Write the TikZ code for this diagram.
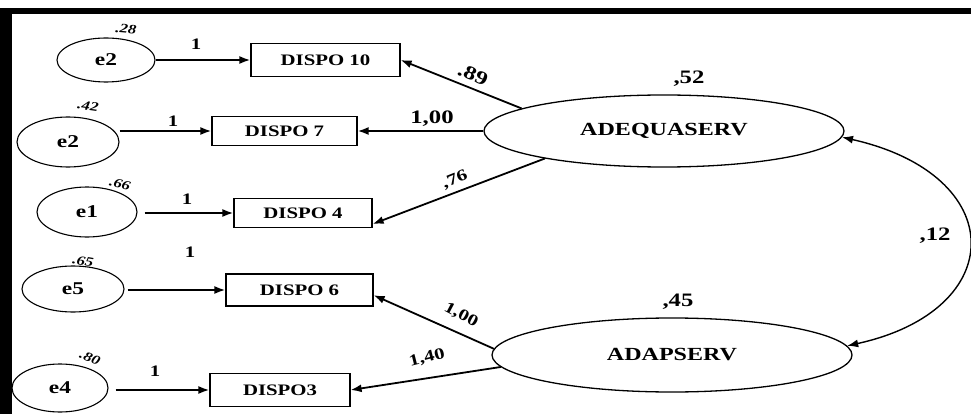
\documentclass[tikz,border=0pt]{standalone}
\usepackage{fontspec}
\setmainfont{Liberation Serif}[FakeStretch=1.3]
\usetikzlibrary{shapes.geometric,arrows.meta}
\begin{document}
\begin{tikzpicture}[x=1pt,y=-1pt,
  lat/.style={ellipse,draw,line width=1.3pt,inner sep=0pt,font=\fontsize{18.5}{20}\selectfont\bfseries},
  err/.style={ellipse,draw,line width=1.1pt,inner sep=0pt,font=\fontsize{18}{20}\selectfont\bfseries},
  obs/.style={rectangle,draw,line width=1.2pt,inner sep=0pt,font=\fontsize{16}{18}\selectfont\bfseries},
  arr/.style={-{Latex[length=11pt,width=8pt]},line width=1.8pt},
  darr/.style={{Latex[length=11pt,width=8pt]}-{Latex[length=11pt,width=8pt]},line width=1.4pt},
  lbl/.style={inner sep=0pt,font=\fontsize{16}{18}\selectfont\bfseries},
  big/.style={inner sep=0pt,font=\fontsize{19}{21}\selectfont\bfseries},
  var/.style={inner sep=0pt,font=\fontsize{13}{15}\selectfont\bfseries\itshape}]
\useasboundingbox (0,0) rectangle (971,414);
\fill[black] (7,8) rectangle (971,14);
\fill[black] (0,8) rectangle (12,414);

% latent variables
\node[lat,minimum width=360pt,minimum height=72pt] (A) at (664,131) {ADEQUASERV};
\node[lat,minimum width=360pt,minimum height=74pt] (B) at (672,355) {ADAPSERV};

% observed variables
\node[obs,minimum width=149pt,minimum height=33pt] (d10) at (325.5,60) {DISPO 10};
\node[obs,minimum width=145pt,minimum height=29pt] (d7) at (284.5,131) {DISPO 7};
\node[obs,minimum width=138pt,minimum height=29pt] (d4) at (303,213) {DISPO 4};
\node[obs,minimum width=147pt,minimum height=32pt] (d6) at (299.5,290) {DISPO 6};
\node[obs,minimum width=140pt,minimum height=33pt] (d3) at (280,390) {DISPO3};

% error terms
\node[err,minimum width=98pt,minimum height=44pt] (ea) at (106,60) {e2};
\node[err,minimum width=102pt,minimum height=50pt] (eb) at (68,142) {e2};
\node[err,minimum width=100pt,minimum height=50pt] (ec) at (87,212) {e1};
\node[err,minimum width=102pt,minimum height=46pt] (ed) at (73,289) {e5};
\node[err,minimum width=96pt,minimum height=48pt] (ee) at (60,388) {e4};

% error arrows
\draw[arr] (ea) -- (d10);
\draw[arr] (eb.east |- d7.west) -- (d7.west);
\draw[arr,shorten <=7pt] (ec.east |- d4.west) -- (d4.west);
\draw[arr,shorten <=3pt] (ed.east |- d6.west) -- (d6.west);
\draw[arr,shorten <=7pt] (ee.east |- d3.west) -- (d3.west);

% loadings
\draw[arr] (A.171) -- (d10.east);
\draw[arr] (A.west) -- (d7.east);
\draw[arr] (A.193) -- (d4.-9);
\draw[arr] (B.178) -- (d6.-4);
\draw[arr] (B.184) -- (d3.east);

% covariance
\draw[darr] (A.-2) .. controls (1010,175) and (1010,310) .. (B.3);

% labels
\node[lbl] at (196,44) {1};
\node[lbl] at (173,121) {1};
\node[lbl] at (187,199) {1};
\node[lbl] at (190,252) {1};
\node[lbl] at (155,371) {1};

\node[var,rotate=-5] at (126,29) {.28};
\node[var,rotate=-8] at (88,106) {.42};
\node[var,rotate=-15] at (120,184) {.66};
\node[var,rotate=-10] at (83,261) {.65};
\node[var,rotate=-22] at (90,358) {.80};

\node[big,rotate=-24] at (473,75) {.89};
\node[big] at (432,119) {1,00};
\node[lbl,rotate=22] at (455,180) {,76};
\node[lbl,rotate=-28] at (461,315) {1,00};
\node[lbl,rotate=14] at (427,358) {1,40};

\node[big] at (689,79) {,52};
\node[big] at (678,302) {,45};
\node[big] at (935,236) {,12};
\end{tikzpicture}
\end{document}
